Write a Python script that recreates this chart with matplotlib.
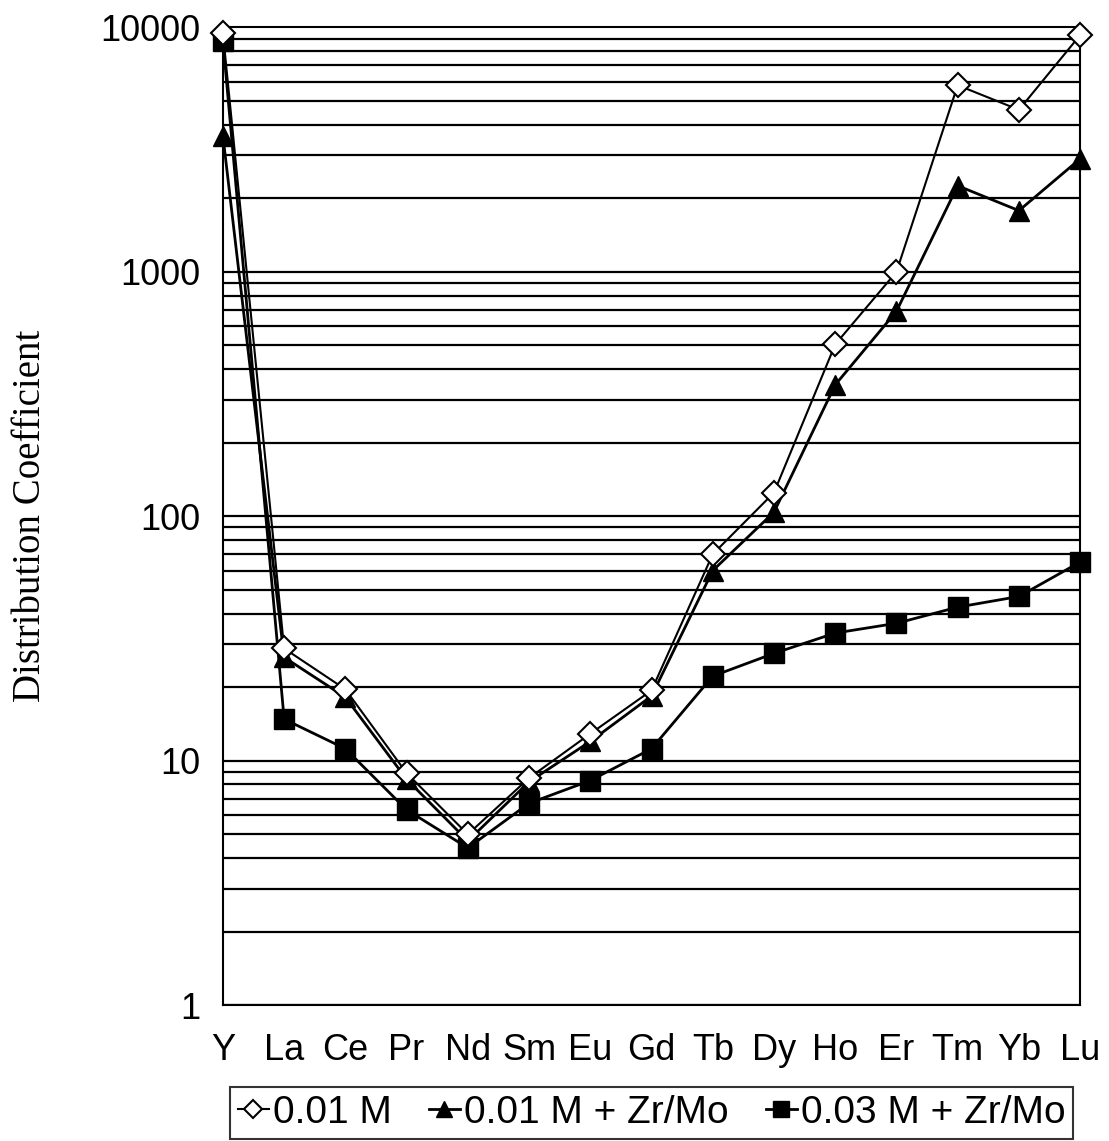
import numpy as np
import matplotlib.pyplot as plt

elements = ['Y', 'La', 'Ce', 'Pr', 'Nd', 'Sm', 'Eu', 'Gd', 'Tb', 'Dy', 'Ho', 'Er', 'Tm', 'Yb', 'Lu']

d_001 = [9500, 28.8, 19.6, 8.9, 5.0, 8.5, 12.9, 19.4, 70, 125, 505, 1000, 5800, 4600, 9300]
d_001_zrmo = [3600, 26.5, 18.2, 8.4, 4.7, 8.2, 12.0, 18.4, 60, 104, 345, 690, 2250, 1780, 2900]
d_003_zrmo = [8800, 14.8, 11.2, 6.3, 4.4, 6.7, 8.3, 11.2, 22.2, 27.5, 33.3, 36.5, 42.5, 47, 65]

plt.rcParams['font.family'] = ['Liberation Sans', 'DejaVu Sans']

fig = plt.figure(figsize=(11.09, 11.41), dpi=100)
ax = fig.add_axes([0.201, 0.119, 0.773, 0.857])

x = np.arange(len(elements))
ax.plot(x, d_001, color='black', lw=1.5, marker='D', ms=12, mfc='white', mec='black', mew=1.5,
        label='0.01 M', zorder=5, clip_on=False)
ax.plot(x, d_001_zrmo, color='black', lw=2, marker='^', ms=15, mfc='black', mec='black',
        label='0.01 M + Zr/Mo', zorder=4, clip_on=False)
ax.plot(x, d_003_zrmo, color='black', lw=2, marker='s', ms=15, mfc='black', mec='black',
        label='0.03 M + Zr/Mo', zorder=3, clip_on=False)

ax.set_yscale('log')
ax.set_ylim(1, 10000)
ax.set_xlim(0, len(elements) - 1)

# horizontal grid at every decade step
for dec in [1, 10, 100, 1000]:
    for m in range(1, 10):
        ax.axhline(dec * m, color='black', lw=1.6, zorder=1)

ax.set_yticks([1, 10, 100, 1000, 10000])
ax.set_yticklabels(['1', '10', '100', '1000', '10000'])
ax.yaxis.set_minor_locator(plt.NullLocator())
ax.set_xticks(x)
ax.set_xticklabels(elements)
ax.tick_params(axis='both', length=0, labelsize=26)
ax.tick_params(axis='x', pad=20)
ax.tick_params(axis='y', pad=16)
for sp in ax.spines.values():
    sp.set_linewidth(1.5)

ax.set_ylabel('Distribution Coefficient', family=['Liberation Serif'], fontsize=28)
ax.yaxis.set_label_coords(-0.203, 0.5)

leg = ax.legend(loc='upper left', bbox_to_anchor=(0.008, -0.0838, 0.984, 0), mode='expand',
                borderaxespad=0, ncol=3, fontsize=28, frameon=True, fancybox=False,
                edgecolor='black', handlelength=0.8, handletextpad=0.1, columnspacing=0.6,
                borderpad=0.2, markerscale=0.75)
leg.get_frame().set_linewidth(1.5)

fig.savefig('out.png', dpi=100)
